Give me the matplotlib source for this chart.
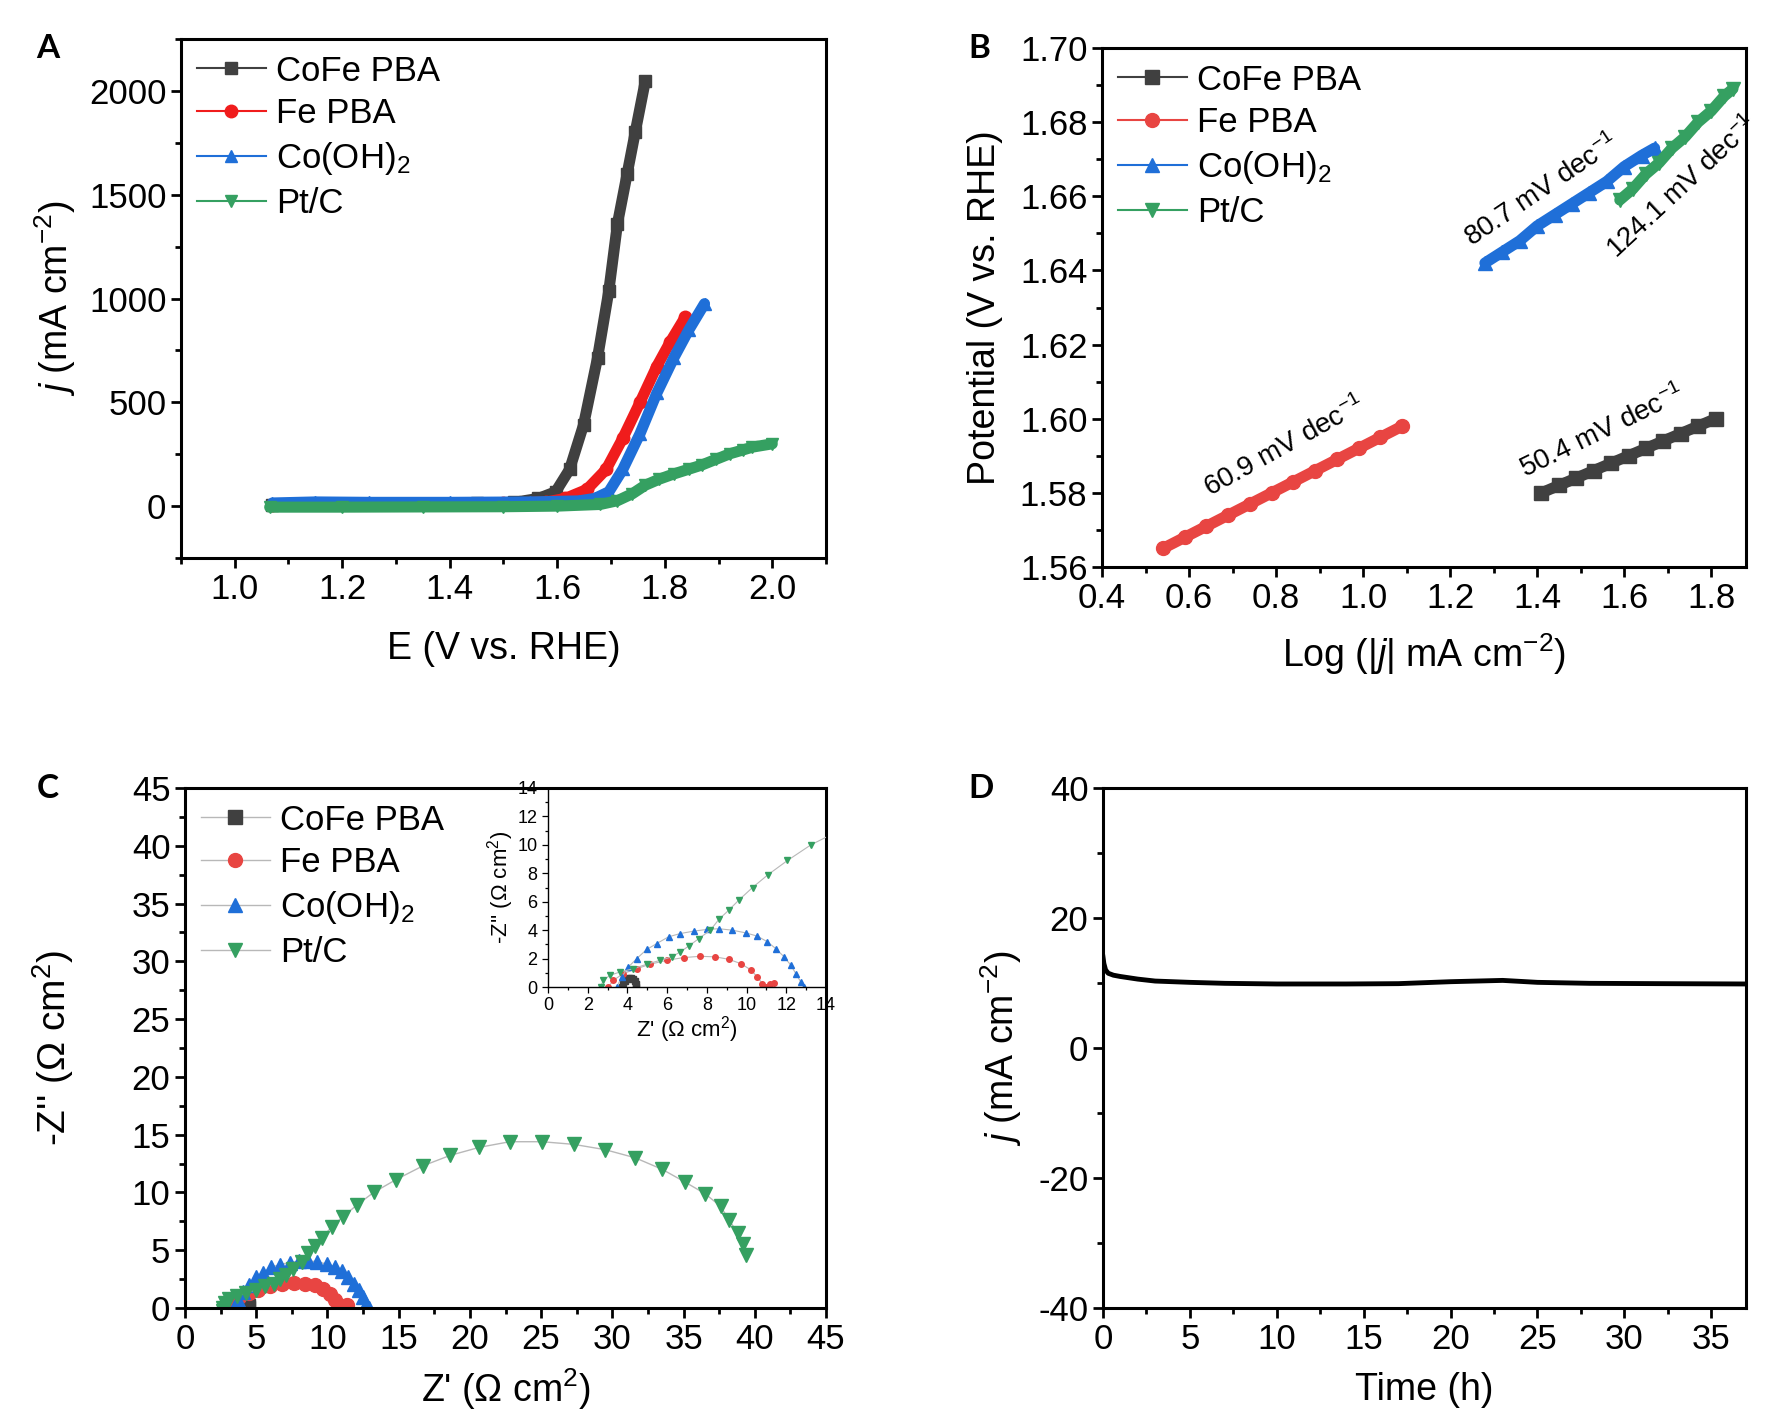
import matplotlib
matplotlib.use("Agg")
import matplotlib.pyplot as plt
from matplotlib.ticker import MultipleLocator

plt.rcParams['font.family'] = ['Liberation Sans', 'DejaVu Sans']
plt.rcParams['mathtext.fontset'] = 'custom'
plt.rcParams['mathtext.rm'] = 'Liberation Sans'
plt.rcParams['mathtext.it'] = 'Liberation Sans:italic'
plt.rcParams['mathtext.bf'] = 'Liberation Sans:bold'
plt.rcParams['axes.unicode_minus'] = False

names = ['CoFe PBA', 'Fe PBA', 'Co(OH)$_2$', 'Pt/C']
colors = ['#404040', '#f01c1c', '#1f6fd8', '#35a061']
colors_b = ['#404040', '#e84542', '#1f6fd8', '#35a061']
markers = ['s', 'o', '^', 'v']

# --- A: LSV polarisation curves
lsv_E = [
    [1.07, 1.15, 1.25, 1.35, 1.45, 1.52, 1.565, 1.597, 1.623, 1.649, 1.675, 1.696, 1.712, 1.73, 1.745, 1.764],
    [1.07, 1.2, 1.35, 1.5, 1.58, 1.615, 1.655, 1.691, 1.722, 1.754, 1.785, 1.81, 1.838],
    [1.07, 1.15, 1.25, 1.4, 1.55, 1.64, 1.67, 1.696, 1.722, 1.754, 1.785, 1.817, 1.845, 1.874],
    [1.065, 1.2, 1.35, 1.5, 1.6, 1.68, 1.712, 1.74, 1.764, 1.79, 1.817, 1.845, 1.869, 1.895, 1.921, 1.945, 1.963, 2.0],
]
lsv_j = [
    [5, 8, 10, 12, 15, 18, 37, 69, 177, 392, 715, 1038, 1360, 1600, 1800, 2050],
    [5, 8, 10, 14, 20, 37, 80, 177, 327, 500, 672, 790, 910],
    [15, 20, 18, 18, 20, 25, 37, 69, 177, 349, 543, 715, 850, 975],
    [-5, -5, -4, -3, 0, 8, 26, 60, 101, 130, 155, 178, 198, 225, 252, 270, 284, 300],
]

# --- B: Tafel plots
tafel_x = [
    [1.41, 1.45, 1.49, 1.53, 1.57, 1.61, 1.65, 1.69, 1.73, 1.77, 1.81],
    [0.54, 0.59, 0.64, 0.69, 0.74, 0.79, 0.84, 0.89, 0.94, 0.99, 1.04, 1.09],
    [1.28, 1.32, 1.36, 1.40, 1.44, 1.48, 1.52, 1.56, 1.60, 1.64, 1.67],
    [1.59, 1.62, 1.65, 1.68, 1.71, 1.74, 1.77, 1.80, 1.83, 1.85],
]
tafel_y = [
    [1.580, 1.582, 1.584, 1.586, 1.588, 1.590, 1.592, 1.594, 1.596, 1.598, 1.600],
    [1.565, 1.568, 1.571, 1.574, 1.577, 1.580, 1.583, 1.586, 1.589, 1.592, 1.595, 1.598],
    [1.642, 1.645, 1.648, 1.652, 1.655, 1.658, 1.661, 1.664, 1.668, 1.671, 1.673],
    [1.659, 1.662, 1.666, 1.669, 1.673, 1.676, 1.680, 1.683, 1.687, 1.689],
]
tafel_labels = ['50.4 mV dec$^{-1}$', '60.9 mV dec$^{-1}$', '80.7 mV dec$^{-1}$', '124.1 mV dec$^{-1}$']
tafel_label_pos = [(1.55, 1.5965), (0.82, 1.5923), (1.41, 1.6615), (1.735, 1.6625)]
tafel_label_rot = [26, 29, 34, 43]

# --- C: Nyquist plots
eis_re = [
    [3.75, 3.8, 3.9, 4.0, 4.1, 4.2, 4.3, 4.38, 4.42, 4.45],
    [3.04, 3.29, 3.79, 4.47, 5.14, 5.99, 6.83, 7.67, 8.43, 9.1, 9.7, 10.2, 10.54, 10.79, 10.96, 11.2, 11.38],
    [3.46, 3.71, 4.05, 4.47, 4.97, 5.48, 6.07, 6.66, 7.34, 8.0, 8.6, 9.27, 9.95, 10.54, 11.05, 11.47, 11.89, 12.23, 12.48, 12.73, 12.9],
    [2.65, 2.65, 2.78, 3.12, 3.63, 4.3, 4.97, 5.65, 6.24, 6.66, 7.08, 7.59, 8.18, 8.6, 9.1, 9.6, 10.3, 11.08,
     12.06, 13.24, 14.8, 16.7, 18.6, 20.65, 22.8, 25.06, 27.3, 29.5, 31.6, 33.5, 35.1, 36.5, 37.6, 38.2, 38.8, 39.2, 39.4],
]
eis_im = [
    [0.0, 0.25, 0.45, 0.58, 0.64, 0.63, 0.55, 0.4, 0.2, 0.0],
    [0.0, 0.47, 0.94, 1.29, 1.6, 1.88, 2.07, 2.16, 2.12, 1.95, 1.65, 1.22, 0.71, 0.24, 0.0, 0.19, 0.28],
    [0.0, 0.7, 1.41, 2.0, 2.64, 3.06, 3.53, 3.76, 3.93, 4.05, 4.1, 4.0, 3.81, 3.58, 3.18, 2.7, 2.12, 1.53, 0.94, 0.35, 0.0],
    [-0.23, 0.0, 0.47, 0.82, 1.06, 1.29, 1.6, 1.88, 2.12, 2.47, 2.87, 3.4, 4.0, 4.75, 5.4, 6.1, 7.0, 7.9,
     8.9, 10.0, 11.1, 12.3, 13.2, 13.9, 14.39, 14.39, 14.16, 13.7, 13.0, 12.0, 10.9, 9.9, 8.8, 7.6, 6.5, 5.5, 4.6],
]

# --- D: stability test
time_h = [0, 0.05, 0.15, 0.3, 0.6, 1, 2, 3, 5, 7, 10, 14, 17, 20, 23, 25, 28, 32, 37]
stab_j = [14.0, 13.0, 12.0, 11.5, 11.2, 11.0, 10.6, 10.3, 10.1, 9.95, 9.85, 9.85, 9.9, 10.2, 10.4, 10.1, 9.95, 9.9, 9.85]

W, H = 1785, 1427
TICK_FS = 25
LABEL_FS = 27


def rect(l, t, r, b):
    return [l / W, 1 - b / H, (r - l) / W, (b - t) / H]


def style(ax, fs=TICK_FS, lw=2.2, major=7, minor=4):
    for s in ax.spines.values():
        s.set_linewidth(lw)
    ax.tick_params(which='both', direction='out', width=lw * 0.9, labelsize=fs)
    ax.tick_params(which='major', length=major)
    ax.tick_params(which='minor', length=minor)


def add_legend(ax):
    ax.legend(loc='upper left', frameon=False, fontsize=TICK_FS, handlelength=2.0,
              handletextpad=0.3, labelspacing=0.28, borderaxespad=0.05)


fig = plt.figure(figsize=(W / 100, H / 100), dpi=100)
axA = fig.add_axes(rect(181, 39, 826, 558))
axB = fig.add_axes(rect(1102, 48, 1746, 567))
axC = fig.add_axes(rect(185, 788, 826, 1308))
axD = fig.add_axes(rect(1103, 788, 1746, 1308))
axIn = fig.add_axes(rect(548, 788, 826, 987))
axIn.set_facecolor('none')

# A
for E, j, c, m, n in zip(lsv_E, lsv_j, colors, markers, names):
    axA.plot(E, j, color=c, lw=8, solid_capstyle='round', solid_joinstyle='round')
    axA.plot(E, j, color=c, lw=1.5, marker=m, ms=9, label=n)
axA.set_xlim(0.9, 2.1)
axA.set_ylim(-250, 2250)
axA.xaxis.set_major_locator(MultipleLocator(0.2))
axA.xaxis.set_minor_locator(MultipleLocator(0.1))
axA.yaxis.set_major_locator(MultipleLocator(500))
axA.yaxis.set_minor_locator(MultipleLocator(250))
axA.set_xlabel('E (V vs. RHE)', fontsize=LABEL_FS, labelpad=18)
axA.set_ylabel('$j$ (mA cm$^{-2}$)', fontsize=LABEL_FS, labelpad=8)
style(axA)
add_legend(axA)

# B
for x, y, c, m, n in zip(tafel_x, tafel_y, colors_b, markers, names):
    axB.plot(x, y, color=c, lw=8, solid_capstyle='round')
    axB.plot(x, y, color=c, lw=1.5, marker=m, ms=10, label=n)
for txt, (tx, ty), rot in zip(tafel_labels, tafel_label_pos, tafel_label_rot):
    axB.text(tx, ty, txt, rotation=rot, ha='center', va='center', fontsize=20,
             rotation_mode='anchor')
axB.set_xlim(0.4, 1.88)
axB.set_ylim(1.56, 1.70)
axB.xaxis.set_major_locator(MultipleLocator(0.2))
axB.xaxis.set_minor_locator(MultipleLocator(0.1))
axB.yaxis.set_major_locator(MultipleLocator(0.02))
axB.yaxis.set_minor_locator(MultipleLocator(0.01))
axB.set_xlabel('Log (|$j$| mA cm$^{-2}$)', fontsize=LABEL_FS, labelpad=12)
axB.set_ylabel('Potential (V vs. RHE)', fontsize=LABEL_FS, labelpad=12)
style(axB)
add_legend(axB)

# C
for x, y, c, m, n in zip(eis_re, eis_im, colors_b, markers, names):
    axC.plot(x, y, color='#b8b8b8', lw=1, marker=m, ms=10, mfc=c, mec=c, label=n)
    axIn.plot(x, y, color='#b8b8b8', lw=0.8, marker=m, ms=4, mfc=c, mec=c)
axC.set_xlim(0, 45)
axC.set_ylim(0, 45)
axC.xaxis.set_major_locator(MultipleLocator(5))
axC.xaxis.set_minor_locator(MultipleLocator(2.5))
axC.yaxis.set_major_locator(MultipleLocator(5))
axC.yaxis.set_minor_locator(MultipleLocator(2.5))
axC.set_xlabel("Z' (Ω cm$^2$)", fontsize=LABEL_FS, labelpad=8)
axC.set_ylabel("-Z'' (Ω cm$^2$)", fontsize=LABEL_FS + 1, labelpad=40)
style(axC)
add_legend(axC)

axIn.set_xlim(0, 14)
axIn.set_ylim(0, 14)
axIn.xaxis.set_major_locator(MultipleLocator(2))
axIn.xaxis.set_minor_locator(MultipleLocator(1))
axIn.yaxis.set_major_locator(MultipleLocator(2))
axIn.yaxis.set_minor_locator(MultipleLocator(1))
axIn.spines['top'].set_visible(False)
axIn.spines['right'].set_visible(False)
style(axIn, fs=13, lw=1.0, major=4, minor=2)
axIn.set_xlabel("Z' (Ω cm$^2$)", fontsize=16, labelpad=0)
axIn.set_ylabel("-Z'' (Ω cm$^2$)", fontsize=16, labelpad=1)

# D
axD.plot(time_h, stab_j, color='black', lw=3.5)
axD.set_xlim(0, 37)
axD.set_ylim(-40, 40)
axD.xaxis.set_major_locator(MultipleLocator(5))
axD.xaxis.set_minor_locator(MultipleLocator(2.5))
axD.yaxis.set_major_locator(MultipleLocator(20))
axD.yaxis.set_minor_locator(MultipleLocator(10))
axD.set_xlabel('Time (h)', fontsize=LABEL_FS, labelpad=12)
axD.set_ylabel('$j$ (mA cm$^{-2}$)', fontsize=LABEL_FS, labelpad=10)
style(axD)

# panel letters
for letter, (px, py) in zip('ABCD', [(48, 49), (979, 49), (48, 788), (981, 788)]):
    fig.text(px / W, 1 - py / H, letter, fontsize=24, fontweight='bold',
             ha='center', va='center', family=['Lato', 'DejaVu Sans'])

fig.savefig('out.png', dpi=100)
